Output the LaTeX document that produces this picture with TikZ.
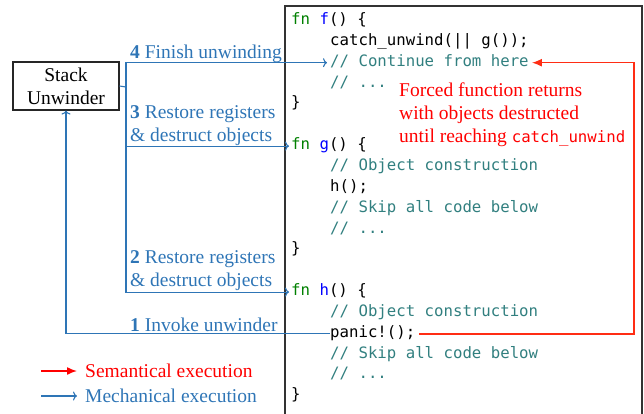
\documentclass[tikz,border=0pt]{standalone}
\usepackage{fontspec}
\setmainfont{Liberation Serif}
\newfontfamily\codefont{DejaVu Sans Mono}
\usetikzlibrary{arrows.meta,positioning}
\definecolor{mechblue}{RGB}{46,117,182}
\definecolor{semred}{RGB}{255,45,20}
\definecolor{kwgreen}{RGB}{0,128,0}
\definecolor{fnblue}{RGB}{0,0,255}
\definecolor{cmtteal}{RGB}{49,127,127}
\newcommand{\kw}[1]{\textcolor{kwgreen}{#1}}
\newcommand{\fname}[1]{\textcolor{fnblue}{#1}}
\newcommand{\cmt}[1]{\textcolor{cmtteal}{#1}}

\begin{document}
\begin{tikzpicture}[x=1pt, y=-1pt,
  code/.style={anchor=west, inner sep=0pt, font=\codefont\fontsize{15.7}{20}\selectfont, text height=10pt, text depth=3pt},
  lbl/.style={anchor=base west, inner sep=0pt, align=left, text=mechblue, font=\fontsize{19.5}{23}\selectfont},
  mech/.style={draw=mechblue, line width=1.1pt, -{To[length=4pt,width=9pt]}},
  sem/.style={draw=semred, line width=1.5pt, -{Latex[length=10pt,width=8pt]}}]
  \useasboundingbox (0,0) rectangle (644,413);

  % code listing
  \draw[line width=1.6pt, black!80] (285,420) -- (285,6) -- (642,6) -- (642,420);
  \node[code] (fsig)   at (291,21)    {\kw{fn} \fname{f}() \{};
  \node[code] (fcatch) at (330,41.85) {catch\_unwind(|| g());};
  \node[code] (fcont)  at (330,62.7)  {\cmt{// Continue from here}};
  \node[code] (fdots)  at (330,83.55) {\cmt{// ...}};
  \node[code] (fend)   at (291,104.4) {\}};
  \node[code] (gsig)   at (291,146.1) {\kw{fn} \fname{g}() \{};
  \node[code] (gobj)   at (330,166.95) {\cmt{// Object construction}};
  \node[code] (gcall)  at (330,187.8) {h();};
  \node[code] (gskip)  at (330,208.65) {\cmt{// Skip all code below}};
  \node[code] (gdots)  at (330,229.5) {\cmt{// ...}};
  \node[code] (gend)   at (291,250.35) {\}};
  \node[code] (hsig)   at (291,292.05) {\kw{fn} \fname{h}() \{};
  \node[code] (hobj)   at (330,312.9) {\cmt{// Object construction}};
  \node[code] (hpanic) at (330,333.75) {panic!();};
  \node[code] (hskip)  at (330,354.6) {\cmt{// Skip all code below}};
  \node[code] (hdots)  at (330,375.45) {\cmt{// ...}};
  \node[code] (hend)   at (291,396.3) {\}};

  % unwinder and its steps
  \node[draw=black!85, line width=1.1pt, minimum width=106pt, minimum height=48pt, inner sep=0pt,
        align=center, font=\fontsize{19.5}{23}\selectfont] (unw) at (66,86) {Stack\\Unwinder};
  \coordinate (trunk) at (126,87);
  \draw[mechblue, line width=1.1pt] (unw.east) -- (trunk);
  \draw[mech, shorten >=3pt] (trunk) |- (fcont.west);
  \draw[mech, shorten >=2pt] (trunk) |- (gsig.west);
  \draw[mech, shorten >=2pt] (trunk) |- (hsig.west);
  \draw[mech] (hpanic.west) -| (unw.south);

  \node[lbl] (step4) at (130,58)  {\textbf{4} Finish unwinding};
  \node[lbl] (step3) at (130,141) {\textbf{3} Restore registers\\\& destruct objects};
  \node[lbl] (step2) at (130,286) {\textbf{2} Restore registers\\\& destruct objects};
  \node[lbl] (step1) at (130,331) {\textbf{1} Invoke unwinder};

  % forced returns
  \coordinate (redside) at (634,0);
  \draw[sem, shorten <=4pt, shorten >=3pt] (hpanic.east) -- (hpanic.east -| redside) |- (fcont.east);
  \node[lbl, text=red] (forced) at (399,142)
    {Forced function returns\\with objects destructed\\until reaching {\codefont\fontsize{15.7}{20}\selectfont catch\_unwind}};

  % legend
  \node[lbl, anchor=west, text=red] (semleg) at (85,371) {Semantical execution};
  \node[lbl, anchor=west] (mechleg) at (85,396) {Mechanical execution};
  \coordinate (semstart) at (41,371);
  \coordinate (mechstart) at (41,396);
  \draw[sem, draw=red, shorten >=8pt] (semstart) -- (semleg.west);
  \draw[mech, shorten >=8pt] (mechstart) -- (mechleg.west);
\end{tikzpicture}
\end{document}
